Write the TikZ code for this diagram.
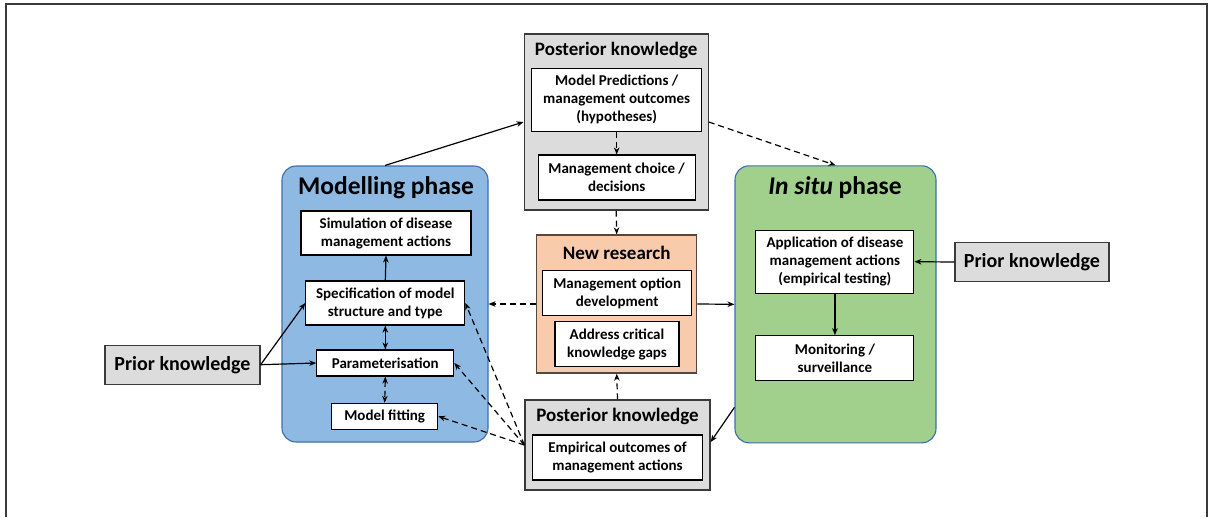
\documentclass[tikz,border=0pt]{standalone}
\usepackage{fontspec}
\setmainfont{Carlito}
\usetikzlibrary{arrows.meta,calc}
\definecolor{modfill}{HTML}{8DB9E2}
\definecolor{modline}{HTML}{3E6DAE}
\definecolor{sitfill}{HTML}{A0D08C}
\definecolor{sitline}{HTML}{3E6DAE}
\definecolor{peach}{HTML}{F8CBAD}
\definecolor{peachline}{HTML}{5A4638}
\definecolor{greyfill}{HTML}{DCDCDC}
\definecolor{greyline}{HTML}{3A3A3A}
\tikzset{
  inbox/.style={draw=black, fill=white, line width=1.1pt, align=center, inner sep=0pt,
    font=\bfseries\fontsize{15}{18}\selectfont},
  phase/.style={draw=#1, line width=1.1pt, rounded corners=14pt, inner sep=0pt},
  grouptitle/.style={font=\bfseries\fontsize{19}{22}\selectfont, inner sep=0pt},
  greybox/.style={draw=greyline, fill=greyfill, line width=1.3pt, inner sep=0pt},
  conn/.style={line width=1.2pt, -{Stealth[length=7pt,width=5.5pt]}},
  dconn/.style={conn, dash pattern=on 6pt off 4pt},
}
\begin{document}
\begin{tikzpicture}[x=1pt,y=-1pt]
\useasboundingbox (0,0) rectangle (1212,517);
\draw[line width=1.4pt, draw=greyline] (6,517) -- (6,4) -- (1207,4) -- (1207,517);

% Modelling phase
\node[phase=modline, fill=modfill, minimum width=206pt, minimum height=276pt] (mod) at (385,304) {};
\node[font=\bfseries\fontsize{25.5}{30}\selectfont, inner sep=0pt] (modt) at (386,188) {Modelling phase};
\node[inbox, minimum width=170pt, minimum height=44pt] (sim) at (386,233) {Simulation of disease\\management actions};
\node[inbox, minimum width=159pt, minimum height=44pt] (spec) at (385.3,303) {Specification of model\\structure and type};
\node[inbox, minimum width=137pt, minimum height=26pt] (param) at (385.3,363) {Parameterisation};
\node[inbox, minimum width=106pt, minimum height=26pt] (fit) at (384.7,416.3) {Model fitting};

% In situ phase
\node[phase=sitline, fill=sitfill, minimum width=201pt, minimum height=277pt] (insitu) at (835.5,304.3) {};
\node[font=\bfseries\fontsize{25.5}{30}\selectfont, inner sep=0pt] (sitt) at (835,188) {\textit{In situ} phase};
\node[inbox, minimum width=158pt, minimum height=63pt] (app) at (834.9,261.7) {Application of disease\\management actions\\(empirical testing)};
\node[inbox, minimum width=158pt, minimum height=45pt] (mon) at (834.9,358.2) {Monitoring /\\surveillance};

% Top posterior knowledge
\node[greybox, minimum width=184pt, minimum height=176pt] (post1) at (616.2,122) {};
\node[grouptitle] (post1t) at (616.2,50) {Posterior knowledge};
\node[inbox, minimum width=170pt, minimum height=63pt] (pred) at (616.7,99.7) {Model Predictions /\\management outcomes\\(hypotheses)};
\node[inbox, minimum width=157pt, minimum height=45pt] (choice) at (616.7,177.5) {Management choice /\\decisions};

% New research
\node[draw=peachline, fill=peach, line width=1.3pt, inner sep=0pt, minimum width=160pt, minimum height=138pt] (newr) at (616.7,304) {};
\node[grouptitle, font=\bfseries\fontsize{19}{22}\selectfont] (newrt) at (616.7,253) {New research};
\node[inbox, minimum width=149pt, minimum height=45pt] (mopt) at (617.2,293.2) {Management option\\development};
\node[inbox, minimum width=124pt, minimum height=45pt] (gaps) at (617,344.2) {Address critical\\knowledge gaps};

% Bottom posterior knowledge
\node[greybox, minimum width=185pt, minimum height=90pt] (post2) at (617.5,445) {};
\node[grouptitle] (post2t) at (617.5,416.5) {Posterior knowledge};
\node[inbox, minimum width=170pt, minimum height=45pt] (emp) at (617.5,457.5) {Empirical outcomes of\\management actions};

% Prior knowledge boxes
\node[greybox, minimum width=155pt, minimum height=39pt, font=\bfseries\fontsize{20}{24}\selectfont] (prL) at (182.5,364.7) {Prior knowledge};
\node[greybox, minimum width=154pt, minimum height=39pt, font=\bfseries\fontsize{20}{24}\selectfont] (prR) at (1032,262) {Prior knowledge};

% Connectors
\draw[conn] (spec.north) -- (sim.south);
\draw[conn, {Stealth[length=7pt,width=5.5pt]}-{Stealth[length=7pt,width=5.5pt]}] (spec.south) -- (param.north);
\draw[dconn, {Stealth[length=7pt,width=5.5pt]}-{Stealth[length=7pt,width=5.5pt]}] (param.south) -- (fit.north);
\draw[conn] (prL.east) -- (spec.west);
\draw[conn] (prL.east) -- (param.west);
\draw[conn] (mod.north) -- (post1.west);
\draw[dconn] (post1.east) -- (insitu.north);
\draw[dconn] (pred.south) -- (choice.north);
\draw[dconn] (post1.south) -- (newr.north);
\draw[dconn] (post2.north) -- (newr.south);
\draw[dconn] (newr.west) -- (mod.east);
\draw[conn] (newr.east) -- (insitu.west);
\draw[conn] (prR.west) -- (app.east);
\draw[conn] (app.south) -- (mon.north);
\coordinate (sitout) at ($(insitu.south west)+(0,-36)$);
\coordinate (post2in) at ($(post2.east)+(0,-3)$);
\draw[conn] (sitout) -- (post2in);
\draw[dconn] (post2.west) -- (spec.east);
\draw[dconn] (post2.west) -- (param.east);
\draw[dconn] (post2.west) -- (fit.east);
\end{tikzpicture}
\end{document}
